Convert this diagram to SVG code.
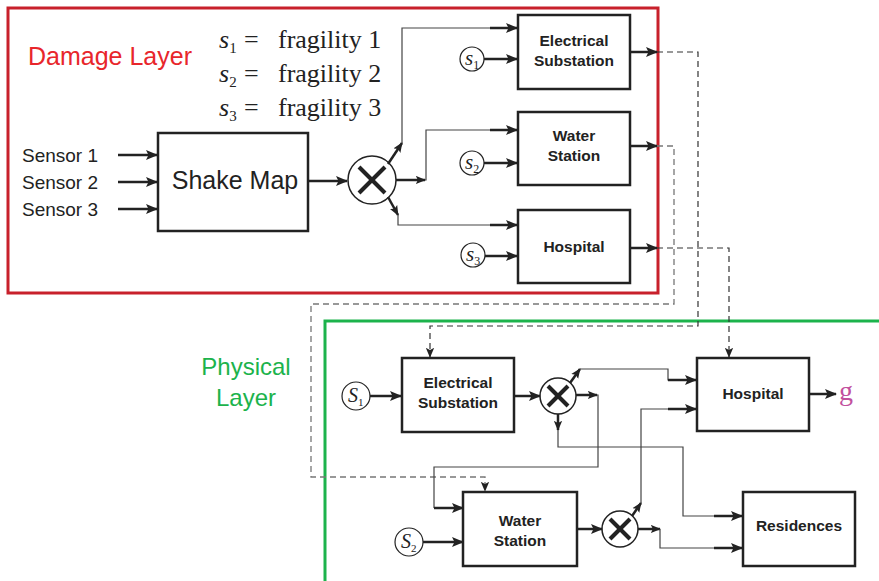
<svg xmlns="http://www.w3.org/2000/svg" width="879" height="581" viewBox="0 0 879 581">
<style>
.box{fill:#fff;stroke:#222;stroke-width:2.5}
.lbl{font-family:"Liberation Sans",Arial,sans-serif;font-weight:bold;font-size:15.5px;fill:#222;text-anchor:middle}
.sans{font-family:"Liberation Sans",Arial,sans-serif}
.serif{font-family:"Liberation Serif","Times New Roman",serif;fill:#222}
.thick{fill:none;stroke:#222;stroke-width:2.5}
.thin{fill:none;stroke:#444;stroke-width:1.2}
.dash{fill:none;stroke:#333;stroke-width:1.2;stroke-dasharray:6 4}
.dash2{fill:none;stroke:#777;stroke-width:1.3;stroke-dasharray:6 4}
.mul{fill:#fff;stroke:#222;stroke-width:1.5}
.x{stroke:#222;stroke-width:4}
.sc{fill:#fff;stroke:#222;stroke-width:1.2}
</style>
<defs>
<marker id="ah" viewBox="0 0 12 10" refX="11" refY="5" markerWidth="13" markerHeight="10" markerUnits="userSpaceOnUse" orient="auto">
<path d="M0,0 L12,5 L0,10 L2.5,5 z" fill="#222"/>
</marker>
<marker id="ahs" viewBox="0 0 12 10" refX="11" refY="5" markerWidth="10" markerHeight="9" markerUnits="userSpaceOnUse" orient="auto">
<path d="M0,0 L12,5 L0,10 L2.5,5 z" fill="#222"/>
</marker>
</defs>

<!-- Layer frames -->
<g id="damage-layer">
<rect x="8" y="8" width="650" height="285" fill="none" stroke="#c8202b" stroke-width="3"/>
<text x="28" y="65" class="sans" font-size="25" fill="#e8262b">Damage Layer</text>
</g>
<g id="physical-layer">
<path d="M325,581 V321 H879" fill="none" stroke="#1cb34c" stroke-width="3"/>
<text x="246" y="375" class="sans" font-size="24" fill="#1cb34c" text-anchor="middle">Physical</text>
<text x="246" y="406" class="sans" font-size="24" fill="#1cb34c" text-anchor="middle">Layer</text>
</g>

<!-- Fragility legend -->
<g id="fragility-legend" class="serif" font-size="26">
<text x="219" y="48"><tspan font-style="italic">s</tspan><tspan font-size="15" dy="5">1</tspan><tspan x="244" dy="-5">=</tspan><tspan x="278">fragility 1</tspan></text>
<text x="219" y="82"><tspan font-style="italic">s</tspan><tspan font-size="15" dy="5">2</tspan><tspan x="244" dy="-5">=</tspan><tspan x="278">fragility 2</tspan></text>
<text x="219" y="116"><tspan font-style="italic">s</tspan><tspan font-size="15" dy="5">3</tspan><tspan x="244" dy="-5">=</tspan><tspan x="278">fragility 3</tspan></text>
</g>

<!-- Sensors -->
<g id="sensors" class="sans" font-size="19" fill="#222">
<text x="22" y="162">Sensor 1</text>
<text x="22" y="189">Sensor 2</text>
<text x="22" y="216">Sensor 3</text>
</g>

<g id="shake-map">
<rect class="box" x="158" y="133" width="150" height="98"/>
<text x="235" y="189" class="sans" font-size="25" fill="#222" text-anchor="middle">Shake Map</text>
</g>

<g id="mult-damage">
<circle class="mul" cx="372" cy="180" r="24"/>
<line class="x" x1="359" y1="167" x2="385" y2="193"/>
<line class="x" x1="385" y1="167" x2="359" y2="193"/>
</g>

<g id="d-elec">
<rect class="box" x="518" y="15" width="112" height="74"/>
<text class="lbl" x="574" y="46">Electrical</text>
<text class="lbl" x="574" y="66">Substation</text>
</g>
<g id="d-water">
<rect class="box" x="518" y="112" width="112" height="73"/>
<text class="lbl" x="574" y="141">Water</text>
<text class="lbl" x="574" y="161">Station</text>
</g>
<g id="d-hosp">
<rect class="box" x="518" y="210" width="112" height="73"/>
<text class="lbl" x="574" y="252">Hospital</text>
</g>

<g id="d-s1"><circle class="sc" cx="472" cy="59" r="12"/><text class="serif" x="465" y="65" font-size="21" font-style="italic">s<tspan font-size="12" font-style="normal" dy="4">1</tspan></text></g>
<g id="d-s2"><circle class="sc" cx="472" cy="163" r="12"/><text class="serif" x="465" y="169" font-size="21" font-style="italic">s<tspan font-size="12" font-style="normal" dy="4">2</tspan></text></g>
<g id="d-s3"><circle class="sc" cx="473" cy="255" r="12"/><text class="serif" x="466" y="261" font-size="21" font-style="italic">s<tspan font-size="12" font-style="normal" dy="4">3</tspan></text></g>

<!-- Physical nodes -->
<g id="p-elec">
<rect class="box" x="402" y="358" width="112" height="74"/>
<text class="lbl" x="458" y="388" font-size="16">Electrical</text>
<text class="lbl" x="458" y="408" font-size="16">Substation</text>
</g>
<g id="p-water">
<rect class="box" x="463" y="492" width="114" height="74"/>
<text class="lbl" x="520" y="526" font-size="16">Water</text>
<text class="lbl" x="520" y="546" font-size="16">Station</text>
</g>
<g id="p-hosp">
<rect class="box" x="697" y="358" width="112" height="73"/>
<text class="lbl" x="753" y="399" font-size="16">Hospital</text>
</g>
<g id="p-res">
<rect class="box" x="743" y="492" width="112" height="74"/>
<text class="lbl" x="799" y="531" font-size="16">Residences</text>
</g>
<g id="p-s1"><circle class="sc" cx="356" cy="396" r="14"/><text class="serif" x="348" y="402" font-size="20" font-style="italic">S<tspan font-size="11" font-style="normal" dy="4">1</tspan></text></g>
<g id="p-s2"><circle class="sc" cx="409" cy="542" r="14"/><text class="serif" x="401" y="548" font-size="20" font-style="italic">S<tspan font-size="11" font-style="normal" dy="4">2</tspan></text></g>
<g id="p-mult1">
<circle class="mul" cx="558" cy="396" r="18"/>
<line class="x" x1="548" y1="386" x2="568" y2="406"/>
<line class="x" x1="568" y1="386" x2="548" y2="406"/>
</g>
<g id="p-mult2">
<circle class="mul" cx="620" cy="529" r="18"/>
<line class="x" x1="610" y1="519" x2="630" y2="539"/>
<line class="x" x1="630" y1="519" x2="610" y2="539"/>
</g>
<g id="output-g">
<text x="839" y="400" class="serif" font-size="28" style="fill:#c2509e">g</text>
</g>

<!-- Connectors -->
<g id="connectors">
<line class="thick" x1="118" y1="155" x2="157" y2="155" marker-end="url(#ah)"/>
<line class="thick" x1="118" y1="182" x2="157" y2="182" marker-end="url(#ah)"/>
<line class="thick" x1="118" y1="209" x2="157" y2="209" marker-end="url(#ah)"/>
<line class="thick" x1="308" y1="181" x2="347" y2="181" marker-end="url(#ah)"/>
<line class="thick" x1="388" y1="164" x2="402" y2="143" marker-end="url(#ahs)" stroke-width="2"/>
<path class="thin" d="M402,143 V28 H492"/>
<line class="thick" x1="490" y1="28" x2="517" y2="28" marker-end="url(#ah)"/>
<line class="thick" x1="396" y1="180" x2="425" y2="180" marker-end="url(#ahs)" stroke-width="2"/>
<path class="thin" d="M425,180 H426 V130 H492"/>
<line class="thick" x1="490" y1="130" x2="517" y2="130" marker-end="url(#ah)"/>
<line class="thick" x1="388" y1="197" x2="398" y2="215" marker-end="url(#ahs)" stroke-width="2"/>
<path class="thin" d="M398,215 V225 H492"/>
<line class="thick" x1="490" y1="225" x2="517" y2="225" marker-end="url(#ah)"/>
<line class="thick" x1="484" y1="59" x2="517" y2="59" marker-end="url(#ah)"/>
<line class="thick" x1="484" y1="163" x2="517" y2="163" marker-end="url(#ah)"/>
<line class="thick" x1="485" y1="256" x2="517" y2="256" marker-end="url(#ah)"/>
<line class="thick" x1="630" y1="52" x2="657" y2="52" marker-end="url(#ah)"/>
<line class="thick" x1="630" y1="146" x2="657" y2="146" marker-end="url(#ah)"/>
<line class="thick" x1="630" y1="248" x2="657" y2="248" marker-end="url(#ah)"/>
<path class="dash" d="M657,52 H698 V326 H430 V357" marker-end="url(#ahs)"/>
<path class="dash2" d="M657,146 H674 V304 H311 V477 H485 V491" marker-end="url(#ahs)"/>
<path class="dash" d="M657,248 H729 V357" marker-end="url(#ahs)"/>
<line class="thick" x1="370" y1="396" x2="401" y2="396" marker-end="url(#ah)"/>
<line class="thick" x1="514" y1="396" x2="540" y2="396" marker-end="url(#ah)"/>
<line class="thick" x1="570" y1="383" x2="580" y2="369" marker-end="url(#ahs)" stroke-width="2"/>
<path class="thin" d="M580,369 H668 V380 H672"/>
<line class="thick" x1="668" y1="380" x2="696" y2="380" marker-end="url(#ah)"/>
<line class="thick" x1="576" y1="395" x2="597" y2="395" marker-end="url(#ahs)" stroke-width="2"/>
<path class="thin" d="M597,395 H598 V467 H434 V508" stroke-width="1.5"/>
<line class="thick" x1="434" y1="508" x2="463" y2="508" marker-end="url(#ah)"/>
<line class="thick" x1="558" y1="414" x2="558" y2="430" marker-end="url(#ahs)" stroke-width="2"/>
<path class="thin" d="M558,430 V447 H683 V516 H718"/>
<line class="thick" x1="714" y1="516" x2="742" y2="516" marker-end="url(#ah)"/>
<line class="thick" x1="423" y1="542" x2="463" y2="542" marker-end="url(#ah)"/>
<line class="thick" x1="577" y1="529" x2="602" y2="529" marker-end="url(#ah)"/>
<line class="thick" x1="632" y1="516" x2="641" y2="503" marker-end="url(#ahs)" stroke-width="2"/>
<path class="thin" d="M641,503 V409 H670" stroke-width="1.5"/>
<line class="thick" x1="668" y1="409" x2="696" y2="409" marker-end="url(#ah)"/>
<line class="thick" x1="638" y1="529" x2="660" y2="529" marker-end="url(#ahs)" stroke-width="2"/>
<path class="thin" d="M660,529 V548 H718"/>
<line class="thick" x1="714" y1="548" x2="742" y2="548" marker-end="url(#ah)"/>
<line class="thick" x1="809" y1="394" x2="836" y2="394" marker-end="url(#ah)"/>
</g>
</svg>
